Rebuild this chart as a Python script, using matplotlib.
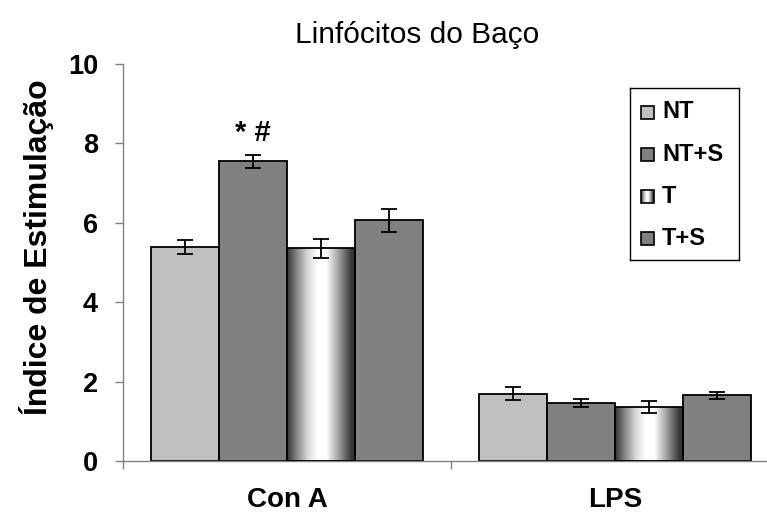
# Stimulation index of spleen lymphocytes (Con A / LPS) by group
import matplotlib
matplotlib.use("Agg")
import matplotlib.pyplot as plt
import numpy as np
from matplotlib.patches import Rectangle
from matplotlib.colors import LinearSegmentedColormap

plt.rcParams['font.family'] = ['Liberation Sans', 'DejaVu Sans']

# Data
stimuli = ['Con A', 'LPS']
groups = ['NT', 'NT+S', 'T', 'T+S']
means = {
    'NT':   [5.39, 1.70],
    'NT+S': [7.55, 1.45],
    'T':    [5.36, 1.35],
    'T+S':  [6.06, 1.65],
}
errors = {
    'NT':   [0.17, 0.16],
    'NT+S': [0.16, 0.10],
    'T':    [0.24, 0.15],
    'T+S':  [0.29, 0.10],
}
flat_colors = {'NT': '#c0c0c0', 'NT+S': '#808080', 'T+S': '#808080'}
signif_label = '* #'
signif_y = 8.26

# cylinder-like shading used for the T bars
shade = LinearSegmentedColormap.from_list('cyl', [
    (0.00, '#333333'), (0.10, '#707070'), (0.30, '#d8d8d8'), (0.45, '#ffffff'),
    (0.57, '#ffffff'), (0.75, '#a0a0a0'), (0.92, '#404040'), (1.00, '#2a2a2a')])
grad = np.linspace(0, 1, 256).reshape(1, -1)

W, H = 767, 514
fig = plt.figure(figsize=(W / 100, H / 100), dpi=100)
ax = fig.add_axes([123 / W, (H - 461) / H, (W - 123) / W, (461 - 64) / H])

x = np.arange(len(stimuli))
width = 0.208
for i, g in enumerate(groups):
    pos = x + (i - 1.5) * width
    if g == 'T':
        bars = ax.bar(pos, means[g], width, facecolor='none', edgecolor='black',
                      linewidth=1.3, zorder=3)
        for b in bars:
            im = ax.imshow(grad, cmap=shade, aspect='auto', zorder=2,
                           extent=(b.get_x(), b.get_x() + b.get_width(), 0, b.get_height()))
            im.set_clip_path(b)
    else:
        ax.bar(pos, means[g], width, color=flat_colors[g], edgecolor='black',
               linewidth=1.3, zorder=2)
    ax.errorbar(pos, means[g], yerr=errors[g], fmt='none', ecolor='black',
                elinewidth=1.3, capsize=5.5, capthick=1.3, zorder=4)

# significance marks above NT+S / Con A
ax.text(x[0] - 0.5 * width, signif_y, signif_label, ha='center', va='center',
        fontsize=21, fontweight='bold')

ax.set_xlim(-0.5, -0.5 + (W - 123) / 328)
ax.set_ylim(0, 10)
ax.set_yticks(np.arange(0, 11, 2))
ax.tick_params(axis='y', labelsize=19.5, length=6, width=1, color='#808080', pad=12)
for lab in ax.get_yticklabels():
    lab.set_fontweight('bold')

ax.set_xticks([-0.5, 0.5])
ax.set_xticklabels([])
ax.set_xticks(x, minor=True)
ax.set_xticklabels(stimuli, minor=True, fontsize=20, fontweight='bold')
ax.tick_params(axis='x', which='major', length=6, width=1, color='#808080', direction='out')
ax.tick_params(axis='x', which='minor', length=0, pad=19)

for s in ['top', 'right']:
    ax.spines[s].set_visible(False)
for s in ['left', 'bottom']:
    ax.spines[s].set_color('#808080')
    ax.spines[s].set_linewidth(1)

fig.text(417 / W, 1 - 43 / H, 'Linfócitos do Baço', ha='center', va='baseline', fontsize=21.5)
fig.text(37 / W, 1 - 247 / H, 'Índice de Estimulação', ha='center', va='center',
         rotation=90, fontsize=23, fontweight='bold')

# legend box
lg = fig.add_axes([630 / W, (H - 260) / H, 109 / W, 172 / H])
lg.set_xticks([])
lg.set_yticks([])
for s in lg.spines.values():
    s.set_linewidth(1)
    s.set_color('black')
rows = [112, 155, 197, 239]
for g, yc in zip(groups, rows):
    r = Rectangle((641, yc - 6.5), 13, 13, edgecolor='black', linewidth=1.2,
                  facecolor=flat_colors.get(g, 'none'), zorder=3)
    lg.add_patch(r)
    if g == 'T':
        im = lg.imshow(grad, cmap=shade, aspect='auto', zorder=2,
                       extent=(641, 654, yc + 6.5, yc - 6.5))
        im.set_clip_path(r)
    lg.text(662, yc, g, ha='left', va='center', fontsize=17, fontweight='bold')
lg.set_xlim(630, 739)
lg.set_ylim(260, 88)

fig.savefig('out.png', dpi=100)
